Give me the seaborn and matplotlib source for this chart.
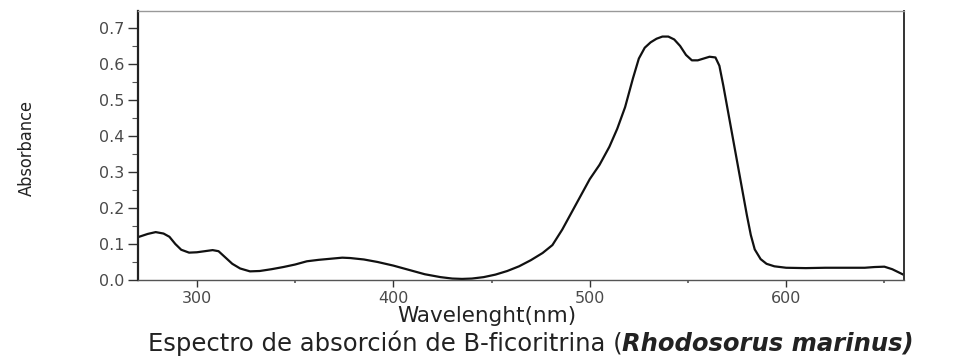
import numpy as np
import seaborn as sns
import pandas as pd
from matplotlib import pyplot as plt
from matplotlib.ticker import MultipleLocator

# values
wavelength = [270, 275, 279, 283, 286, 289, 292, 296, 300, 304, 308, 311, 314, 318,
              322, 327, 332, 338, 344, 350, 356, 362, 368, 374, 378, 385, 392, 400,
              408, 416, 424, 430, 435, 440, 446, 452, 458, 464, 470, 476, 481, 486,
              490, 495, 500, 505, 510, 514, 518, 522, 525, 528, 531, 534, 537, 540,
              543, 546, 549, 552, 555, 558, 561, 564, 566, 568, 570, 572, 574, 576,
              578, 580, 582, 584, 587, 590, 594, 600, 610, 620, 630, 640, 645, 650,
              654, 657, 660]
absorbance = [0.119, 0.128, 0.133, 0.129, 0.120, 0.100, 0.084, 0.076, 0.077, 0.080,
              0.083, 0.080, 0.065, 0.045, 0.032, 0.024, 0.025, 0.030, 0.036, 0.043,
              0.052, 0.056, 0.059, 0.062, 0.061, 0.057, 0.050, 0.040, 0.028, 0.016,
              0.008, 0.004, 0.003, 0.004, 0.008, 0.015, 0.025, 0.038, 0.055, 0.075,
              0.097, 0.140, 0.180, 0.230, 0.280, 0.320, 0.370, 0.420, 0.480, 0.560,
              0.615, 0.645, 0.660, 0.670, 0.676, 0.676, 0.668, 0.650, 0.625, 0.610,
              0.610, 0.615, 0.620, 0.618, 0.595, 0.540, 0.480, 0.420, 0.360, 0.300,
              0.240, 0.180, 0.125, 0.085, 0.058, 0.045, 0.038, 0.034, 0.033, 0.034,
              0.034, 0.034, 0.036, 0.037, 0.030, 0.022, 0.014]

x_ticks = [300, 400, 500, 600]
y_ticks = [0.0, 0.1, 0.2, 0.3, 0.4, 0.5, 0.6, 0.7]

sns.set_style("ticks")
W, H = 970, 358
fig = plt.figure(figsize=(9.7, 3.58), dpi=100)
ax = fig.add_axes([138 / W, 1 - 280 / H, (904 - 138) / W, (280 - 11) / H])

df = pd.DataFrame({"wl": wavelength, "abs": absorbance})
sns.lineplot(data=df, x="wl", y="abs", ax=ax, color="#111111", linewidth=1.6)

ax.set_xlim(270, 660)
ax.set_ylim(0, 0.747)
ax.set_xticks(x_ticks)
ax.set_yticks(y_ticks)
ax.set_yticklabels([f"{v:.1f}" for v in y_ticks])
ax.xaxis.set_minor_locator(MultipleLocator(50))
ax.yaxis.set_minor_locator(MultipleLocator(0.05))
ax.set_xlabel("")
ax.set_ylabel("")

ax.tick_params(axis="both", which="major", direction="out", colors="#333333",
               labelcolor="#4a4a4a", labelsize=11.5, width=1.0)
ax.tick_params(axis="y", which="major", length=7, pad=3)
ax.tick_params(axis="y", which="minor", length=4, width=0.8, colors="#555555")
ax.tick_params(axis="x", which="major", length=5, pad=3)
ax.tick_params(axis="x", which="minor", length=2, width=1.2, colors="#555555")

ax.spines["left"].set_color("#222222")
ax.spines["left"].set_linewidth(1.6)
ax.spines["right"].set_color("#333333")
ax.spines["right"].set_linewidth(1.4)
ax.spines["top"].set_color("#999999")
ax.spines["top"].set_linewidth(1.0)
ax.spines["bottom"].set_color("#555555")
ax.spines["bottom"].set_linewidth(1.0)

fig.text(27 / W, 1 - 148 / H, "Absorbance", rotation=90, ha="center", va="center",
         fontsize=13, family="DejaVu Sans", stretch="condensed", color="#222222")
fig.text(487 / W, 1 - 316 / H, "Wavelenght(nm)", ha="center", va="center",
         fontsize=15.5, family="DejaVu Sans", color="#222222")

# caption with the species name in bold italic
part1 = "Espectro de absorción de B-ficoritrina ("
part2 = "Rhodosorus marinus)"
cap_y = 1 - 343 / H
t1 = fig.text(0, cap_y, part1, ha="left", va="center", fontsize=17.5,
              family="DejaVu Sans", color="#222222")
t2 = fig.text(0, cap_y, part2, ha="left", va="center", fontsize=17.5,
              family="DejaVu Sans", weight="bold", style="italic", color="#222222")
fig.canvas.draw()
r = fig.canvas.get_renderer()
w1 = t1.get_window_extent(r).width
w2 = t2.get_window_extent(r).width
x0 = 531 - (w1 + w2) / 2
t1.set_x(x0 / W)
t2.set_x((x0 + w1) / W)

fig.savefig("out.png", dpi=100)
